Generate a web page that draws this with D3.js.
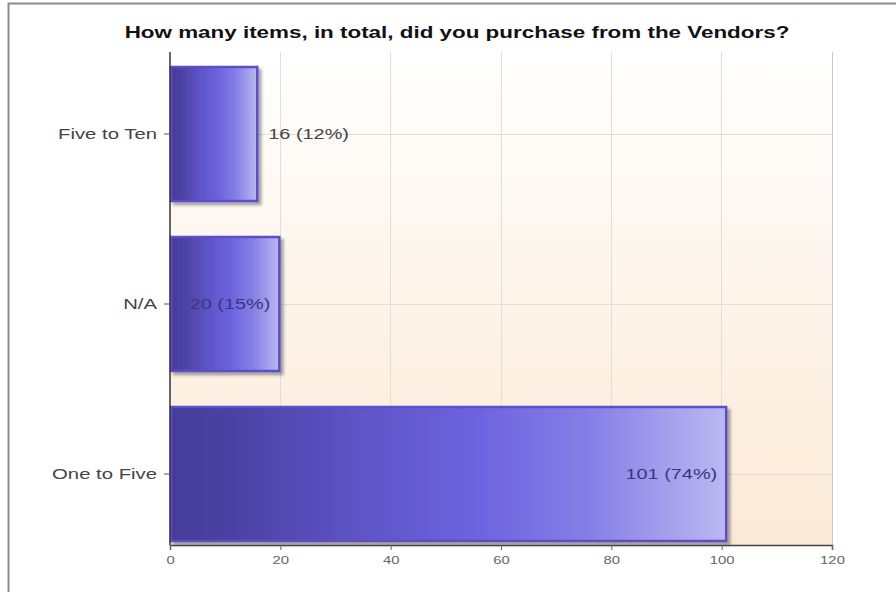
<!DOCTYPE html>
<html><head><meta charset="utf-8">
<script src="https://cdn.jsdelivr.net/npm/d3@7"></script>
<style>body{margin:0;background:#fff}svg{display:block}text{font-family:"Liberation Sans",Arial,sans-serif}</style>
</head><body><svg id="c" width="896" height="592"></svg>
<script>
const title = "How many items, in total, did you purchase from the Vendors?";
const categories = ["Five to Ten", "N/A", "One to Five"];
const values = [16, 20, 101];
const percents = [12, 15, 74];
const xTicks = [0, 20, 40, 60, 80, 100, 120];

(function(){
const svg = d3.select("#c");
const defs = svg.append("defs");
function stretch(sel, k){
  sel.each(function(){
    const n = this.getComputedTextLength();
    if (n > 0) d3.select(this).attr("textLength", n*k).attr("lengthAdjust","spacingAndGlyphs");
  });
}
const bg = defs.append("linearGradient").attr("id","bg").attr("x1",0).attr("y1",0).attr("x2",0).attr("y2",1);
bg.append("stop").attr("offset","0%").attr("stop-color","#ffffff");
bg.append("stop").attr("offset","100%").attr("stop-color","#fbe9d5");
const bar = defs.append("linearGradient").attr("id","bar").attr("x1",0).attr("y1",0).attr("x2",1).attr("y2",0);
[["0%","#463b98"],["15%","#4f44a8"],["35%","#5f55c8"],["55%","#6d63df"],["75%","#857ee6"],["100%","#bbb8f2"]]
  .forEach(([o,c])=>bar.append("stop").attr("offset",o).attr("stop-color",c));
const f = defs.append("filter").attr("id","sh").attr("x","-5%").attr("y","-5%").attr("width","115%").attr("height","115%");
f.append("feDropShadow").attr("dx",3).attr("dy",3).attr("stdDeviation",1.5).attr("flood-color","#000").attr("flood-opacity",0.35);

svg.append("rect").attr("x",8.5).attr("y",3.5).attr("width",900).attr("height",600)
  .attr("fill","none").attr("stroke","#8c8c8c").attr("stroke-width",2);

const pL=170, pR=832, pT=52, pB=545;
const x = d3.scaleLinear().domain([0,120]).range([pL,pR]);
const y = d3.scaleBand().domain(categories).range([49,559]).paddingInner(0.2).paddingOuter(0.1);

svg.append("rect").attr("x",pL).attr("y",pT).attr("width",pR-pL).attr("height",pB-pT).attr("fill","url(#bg)");

svg.append("g").selectAll("line").data(xTicks.slice(1)).join("line")
  .attr("x1",d=>x(d)).attr("x2",d=>x(d)).attr("y1",pT).attr("y2",pB)
  .attr("stroke",d=>d===120?"#c8c8c8":"#e2ddd8").attr("stroke-width",1).attr("shape-rendering","crispEdges");
svg.append("g").selectAll("line").data(categories).join("line")
  .attr("x1",pL).attr("x2",pR).attr("y1",d=>y(d)+y.bandwidth()/2).attr("y2",d=>y(d)+y.bandwidth()/2)
  .attr("stroke","#e2ddd8").attr("shape-rendering","crispEdges");

svg.append("text").attr("x",457).attr("y",38).attr("text-anchor","middle")
  .attr("font-size",16).attr("font-weight","bold").attr("fill","#111").text(title)
  .call(stretch, 1.4);

svg.append("g").selectAll("rect").data(categories).join("rect")
  .attr("x",x(0)+1).attr("y",d=>y(d)+1)
  .attr("width",(d,i)=>x(values[i])-x(0)-2).attr("height",y.bandwidth()-2)
  .attr("fill","url(#bar)").attr("stroke","#5a50c8").attr("stroke-width",2.5)
  .attr("filter","url(#sh)");

svg.append("g").selectAll("text").data(categories).join("text")
  .each(function(d,i){
    const inside = values[i] > 18;
    d3.select(this).attr("x", inside ? x(values[i])-10 : x(values[i])+10)
      .attr("text-anchor", inside ? "end" : "start")
      .attr("fill", inside ? "#3b3680" : "#444");
  })
  .attr("y",d=>y(d)+y.bandwidth()/2+5)
  .attr("font-size",14)
  .text((d,i)=>`${values[i]} (${percents[i]}%)`)
  .call(stretch, 1.42);

const ya = svg.append("g").attr("transform",`translate(${pL},0)`);
ya.append("line").attr("y1",pT).attr("y2",pB).attr("stroke","#333").attr("stroke-width",1.5);
ya.selectAll("line.t").data(categories).join("line").attr("class","t")
  .attr("x1",-6).attr("x2",0).attr("y1",d=>y(d)+y.bandwidth()/2).attr("y2",d=>y(d)+y.bandwidth()/2).attr("stroke","#555");
ya.selectAll("text").data(categories).join("text")
  .attr("x",-13).attr("y",d=>y(d)+y.bandwidth()/2+5).attr("text-anchor","end")
  .attr("font-size",14).attr("fill","#444").text(d=>d)
  .call(stretch, 1.45);

const xa = svg.append("g").attr("transform",`translate(0,${pB})`)
  .call(d3.axisBottom(x).tickValues(xTicks).tickSize(5).tickPadding(6));
xa.select(".domain").attr("stroke","#444").attr("stroke-width",1.5);
xa.selectAll(".tick line").attr("stroke","#666");
xa.selectAll(".tick text").attr("font-size",11).attr("fill","#666").attr("font-family","Liberation Sans, Arial, sans-serif")
  .call(stretch, 1.35);
})();
</script></body></html>
